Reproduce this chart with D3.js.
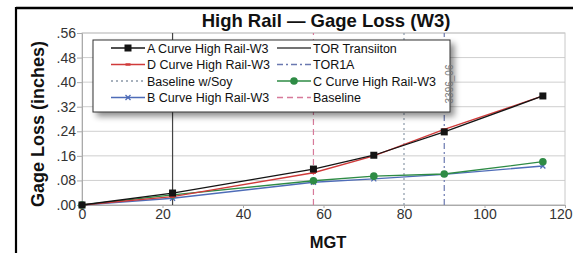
<!DOCTYPE html>
<html><head><meta charset="utf-8">
<script src="https://cdn.jsdelivr.net/npm/d3@7"></script>
<style>
html,body{margin:0;padding:0;background:#fff;}
svg{display:block;font-family:"Liberation Sans",Arial,sans-serif;}
</style></head>
<body>
<svg id="chart" width="573" height="253"></svg>
<script>
const mgt = [0, 22.5, 57.5, 72.5, 90, 114.5];
const curveA = [0, 0.039, 0.117, 0.162, 0.238, 0.355];
const curveD = [0, 0.027, 0.105, 0.160, 0.246, 0.355];
const curveC = [0, 0.033, 0.079, 0.094, 0.101, 0.141];
const curveB = [0, 0.022, 0.074, 0.085, 0.100, 0.127];
const refNames = ["TOR Transiiton", "Baseline", "Baseline w/Soy", "TOR1A"];
const refMgt = [22.5, 57.5, 80, 90];
const xTicks = [0, 20, 40, 60, 80, 100, 120];
const yTicks = [0, 0.08, 0.16, 0.24, 0.32, 0.40, 0.48, 0.56];
const title = "High Rail \u2014 Gage Loss (W3)";
const xTitle = "MGT";
const yTitle = "Gage Loss (inches)";
const refLabel = "3396_06";

const svg = d3.select("#chart");
const x = d3.scaleLinear().domain([0, 120]).range([82, 565]);
const y = d3.scaleLinear().domain([0, 0.56]).range([205, 33]);

// outer frame
svg.append("line").attr("x1", 16).attr("x2", 573).attr("y1", 8).attr("y2", 8).attr("stroke", "#000").attr("stroke-width", 2.5);
svg.append("line").attr("x1", 16).attr("x2", 16).attr("y1", 7).attr("y2", 253).attr("stroke", "#000").attr("stroke-width", 2.2);

// gridlines
svg.append("g").selectAll("line").data(yTicks).join("line")
  .attr("x1", x(0)).attr("x2", x(120)).attr("y1", d => y(d)).attr("y2", d => y(d))
  .attr("stroke", "#cfcfcf").attr("stroke-width", 1);
svg.append("rect").attr("x", x(0)).attr("y", y(0.56)).attr("width", x(120) - x(0)).attr("height", y(0) - y(0.56))
  .attr("fill", "none").attr("stroke", "#c8c8c8");

// axes
const yAxis = d3.axisLeft(y).tickValues(yTicks).tickSize(5).tickPadding(1)
  .tickFormat(d => d3.format(".2f")(d).replace(/^0/, ""));
const gy = svg.append("g").attr("transform", `translate(${x(0)},0)`).call(yAxis);
gy.select(".domain").attr("stroke", "#aaa");
gy.selectAll(".tick line").attr("stroke", "#aaa");
gy.selectAll("text").attr("font-size", 14).attr("fill", "#333").attr("font-family", "Liberation Sans, Arial, sans-serif");

const xAxis = d3.axisBottom(x).tickValues(xTicks).tickSize(3).tickPadding(1);
const gx = svg.append("g").attr("transform", `translate(0,${y(0)})`).call(xAxis);
gx.select(".domain").attr("stroke", "#aaa");
gx.selectAll(".tick line").attr("stroke", "#aaa");
gx.selectAll("text").attr("font-size", 14).attr("fill", "#333").attr("font-family", "Liberation Sans, Arial, sans-serif");
gx.selectAll("text").filter(d => d === 120).attr("text-anchor", "end").attr("dx", 7);

// reference lines
const refStyles = [
  {stroke: "#444", dash: null, w: 1.2},
  {stroke: "#d77a9a", dash: "6,4", w: 1.2},
  {stroke: "#8a98a8", dash: "2,3", w: 1.2},
  {stroke: "#6a78b0", dash: "6,3,2,3", w: 1.2}
];
svg.append("g").selectAll("line").data(refMgt).join("line")
  .attr("x1", d => x(d)).attr("x2", d => x(d)).attr("y1", y(0)).attr("y2", y(0.56))
  .attr("stroke", (d, i) => refStyles[i].stroke).attr("stroke-width", (d, i) => refStyles[i].w)
  .attr("stroke-dasharray", (d, i) => refStyles[i].dash);

// series
const series = [
  {name: "A Curve High Rail-W3", vals: curveA, color: "#141414", marker: "square"},
  {name: "D Curve High Rail-W3", vals: curveD, color: "#d03a3a", marker: "dash"},
  {name: "C Curve High Rail-W3", vals: curveC, color: "#2e8b45", marker: "circle"},
  {name: "B Curve High Rail-W3", vals: curveB, color: "#4e6cb8", marker: "x"}
];
const line = d3.line().x(d => x(d[0])).y(d => y(d[1]));

function drawMarker(g, type, color, cx, cy) {
  if (type === "square") g.append("rect").attr("x", cx - 3.5).attr("y", cy - 3.5).attr("width", 7).attr("height", 7).attr("fill", color);
  else if (type === "circle") g.append("circle").attr("cx", cx).attr("cy", cy).attr("r", 3.8).attr("fill", color);
  else if (type === "x") {
    g.append("path").attr("d", `M${cx-2.5},${cy-2.5}L${cx+2.5},${cy+2.5}M${cx-2.5},${cy+2.5}L${cx+2.5},${cy-2.5}`).attr("stroke", color).attr("stroke-width", 1.3);
  } else if (type === "dash") {
    g.append("rect").attr("x", cx - 2.5).attr("y", cy - 1.2).attr("width", 5).attr("height", 2.4).attr("fill", color);
  }
}

const order = [3, 2, 1, 0];
order.forEach(i => {
  const s = series[i];
  const pts = mgt.map((m, j) => [m, s.vals[j]]);
  const g = svg.append("g");
  g.append("path").attr("d", line(pts)).attr("fill", "none").attr("stroke", s.color).attr("stroke-width", 1.3);
  pts.forEach(p => drawMarker(g, s.marker, s.color, x(p[0]), y(p[1])));
});

// legend
const defs = svg.append("defs");
const f = defs.append("filter").attr("id", "sh").attr("x", "-10%").attr("y", "-10%").attr("width", "130%").attr("height", "140%");
f.append("feGaussianBlur").attr("in", "SourceAlpha").attr("stdDeviation", 3);
f.append("feOffset").attr("dx", 4).attr("dy", 4).attr("result", "b");
f.append("feComponentTransfer").append("feFuncA").attr("type", "linear").attr("slope", 0.45);
const fm = f.append("feMerge");
fm.append("feMergeNode");
fm.append("feMergeNode").attr("in", "SourceGraphic");

const lg = svg.append("g");
lg.append("rect").attr("x", 93).attr("y", 40).attr("width", 357).attr("height", 72)
  .attr("fill", "#fff").attr("stroke", "#333").attr("stroke-width", 1).attr("filter", "url(#sh)");

const legendItems = [
  {label: series[0].name, color: series[0].color, marker: "square", dash: null, col: 0, row: 0},
  {label: series[1].name, color: series[1].color, marker: "dash", dash: null, col: 0, row: 1},
  {label: refNames[2], color: refStyles[2].stroke, marker: null, dash: "2,3", col: 0, row: 2},
  {label: series[3].name, color: series[3].color, marker: "x", dash: null, col: 0, row: 3},
  {label: refNames[0], color: refStyles[0].stroke, marker: null, dash: null, col: 1, row: 0},
  {label: refNames[3], color: refStyles[3].stroke, marker: null, dash: "6,3,2,3", col: 1, row: 1},
  {label: series[2].name, color: series[2].color, marker: "circle", dash: null, col: 1, row: 2},
  {label: refNames[1], color: refStyles[1].stroke, marker: null, dash: "6,4", col: 1, row: 3}
];
const colX = [111, 277];
legendItems.forEach(it => {
  const x0 = colX[it.col], yy = 48 + it.row * 16.5;
  lg.append("line").attr("x1", x0).attr("x2", x0 + 34).attr("y1", yy).attr("y2", yy)
    .attr("stroke", it.color).attr("stroke-width", 1.3).attr("stroke-dasharray", it.dash);
  if (it.marker) drawMarker(lg, it.marker, it.color, x0 + 17, yy);
  lg.append("text").attr("x", x0 + 36).attr("y", yy + 4.5).attr("font-size", 12.5).attr("fill", "#111").text(it.label);
});

svg.append("text").attr("transform", `translate(${x(refMgt[3]) + 9},${84}) rotate(-90)`)
  .attr("text-anchor", "middle").attr("font-size", 10).attr("fill", "#777").text(refLabel);

// titles
svg.append("text").attr("x", 326).attr("y", 27).attr("text-anchor", "middle").attr("font-weight", "bold").attr("font-size", 18.5).attr("fill", "#111").text(title);
svg.append("text").attr("x", 328).attr("y", 248).attr("text-anchor", "middle").attr("font-weight", "bold").attr("font-size", 16.5).attr("fill", "#111").text(xTitle);
svg.append("text").attr("transform", "translate(44,124) rotate(-90)").attr("text-anchor", "middle").attr("font-weight", "bold").attr("font-size", 18).attr("fill", "#111").text(yTitle);
</script>
</body></html>
